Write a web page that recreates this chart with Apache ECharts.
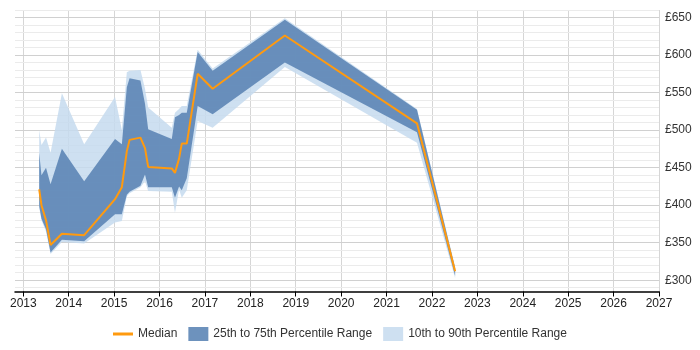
<!DOCTYPE html>
<html>
<head>
<meta charset="utf-8">
<script src="https://cdn.jsdelivr.net/npm/echarts@6/dist/echarts.min.js"></script>
<style>
  html, body { margin: 0; padding: 0; background: #fff; }
  #main { width: 700px; height: 350px; }
</style>
</head>
<body>
<div id="main"></div>
<script>
// 数据：横轴为年份（小数），纵轴为日薪 £
var years = [2013.35, 2013.40, 2013.50, 2013.60, 2013.85, 2014.34, 2015.02, 2015.17, 2015.28, 2015.34, 2015.58, 2015.68, 2015.75, 2016.27, 2016.34, 2016.43, 2016.49, 2016.60, 2016.84, 2017.17, 2018.76, 2021.67, 2022.51]
var p10 = [397, 380, 365, 335, 351, 349, 377, 379, 412, 416, 424, 432, 419, 418, 390, 421, 410, 420, 512, 503, 584, 483, 303]
var p25 = [399, 382, 368, 337, 354, 352, 388, 388, 414, 418, 426, 441, 424, 424, 410, 425, 420, 436, 532, 521, 590, 497, 306]
var median = [421, 400, 380, 347, 362, 360, 408, 424, 472, 487, 490, 476, 451, 449, 443, 462, 482, 482, 575, 555, 626, 509, 312]
var p75 = [470, 440, 450, 428, 475, 432, 488, 481, 557, 569, 566, 535, 501, 488, 517, 520, 523, 523, 604, 579, 647, 527, 316]
var p90 = [500, 480, 490, 470, 549, 481, 544, 500, 577, 579, 580, 555, 530, 503, 523, 528, 532, 532, 607, 582, 649, 528, 318]
var yearTicks = [2013, 2014, 2015, 2016, 2017, 2018, 2019, 2020, 2021, 2022, 2023, 2024, 2025, 2026, 2027]
// 横向网格线：每 10 一条，每 50 一条深色
var gridValues = [290, 300, 310, 320, 330, 340, 350, 360, 370, 380, 390, 400, 410, 420, 430, 440, 450, 460, 470, 480, 490, 500, 510, 520, 530, 540, 550, 560, 570, 580, 590, 600, 610, 620, 630, 640, 650, 660]

var darkBlue = 'rgba(93,134,182,0.9)'
var lightBlue = 'rgba(197,218,238,0.85)'
var orange = '#ff9a0f'

// 用 custom 系列画上下界之间的带状区域
function band(name, lo, hi, color) {
  return {
    name: name,
    type: 'custom',
    silent: true,
    z: 3,
    itemStyle: { color: color },
    data: years.map(function (x, i) { return [x, lo[i], hi[i]] }),
    encode: { x: 0, y: [1, 2] },
    renderItem: function (params, api) {
      if (params.dataIndex !== 0) return null
      var pts = []
      for (var i = 0; i < years.length; i++) pts.push(api.coord([years[i], hi[i]]))
      for (var j = years.length - 1; j >= 0; j--) pts.push(api.coord([years[j], lo[j]]))
      return { type: 'polygon', shape: { points: pts }, style: { fill: color } }
    }
  }
}

var chart = echarts.init(document.getElementById('main'), null, { renderer: 'canvas' })

chart.setOption({
  animation: false,
  textStyle: { fontFamily: 'Liberation Sans, Arial, sans-serif' },
  grid: { left: 15, right: 41, top: 10, bottom: 58.5 },
  legend: {
    bottom: 4,
    left: 108,
    itemWidth: 20,
    itemHeight: 14,
    itemGap: 11,
    textStyle: { fontSize: 12, color: '#333' },
    data: [
      { name: 'Median', icon: 'path://M0,0 L20,0 L20,3 L0,3 Z' },
      { name: '25th to 75th Percentile Range', icon: 'rect' },
      { name: '10th to 90th Percentile Range', icon: 'rect' }
    ]
  },
  xAxis: {
    type: 'value',
    min: 2012.817,
    max: 2027,
    axisLine: { show: true, lineStyle: { color: '#000', width: 1.5 } },
    axisTick: { show: true, length: 5, customValues: yearTicks, lineStyle: { color: '#000' } },
    axisLabel: {
      customValues: yearTicks,
      color: '#222',
      fontSize: 12,
      margin: 6,
      formatter: function (v) { return String(v) }
    },
    splitLine: { show: true, lineStyle: { color: '#d6d6d6' } }
  },
  yAxis: {
    type: 'value',
    position: 'right',
    min: 285,
    max: 660,
    interval: 5,
    axisLine: { show: false },
    axisTick: { show: false },
    axisLabel: {
      color: '#333',
      fontSize: 12,
      margin: 6,
      formatter: function (v) { return v % 50 === 0 ? '£' + v : '' }
    },
    splitLine: { show: false }
  },
  series: [
    {
      name: 'grid',
      type: 'line',
      data: [],
      z: 1,
      silent: true,
      markLine: {
        silent: true,
        z: 1,
        symbol: 'none',
        label: { show: false },
        data: gridValues.map(function (v) {
          return { yAxis: v, lineStyle: { color: v % 50 === 0 ? '#d0d0d0' : '#ebebeb', width: 1, type: 'solid' } }
        })
      }
    },
    band('10th to 90th Percentile Range', p10, p90, lightBlue),
    band('25th to 75th Percentile Range', p25, p75, darkBlue),
    {
      name: 'Median',
      type: 'line',
      data: years.map(function (x, i) { return [x, median[i]] }),
      symbol: 'none',
      z: 5,
      itemStyle: { color: orange },
      lineStyle: { color: orange, width: 2 }
    }
  ]
})
</script>
</body>
</html>
